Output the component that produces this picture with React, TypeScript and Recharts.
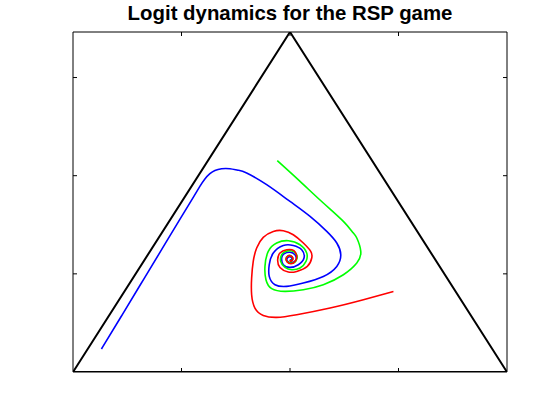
import React from "react";
import { ComposedChart, Scatter, XAxis, YAxis } from "recharts";

// simplex corners (equilateral triangle, height sqrt(3)/2)
const triangle = [
  { x: 0, y: 0 }, { x: 0.5, y: 0.866 }, { x: 1, y: 0 }, { x: 0, y: 0 },
];

const blueTrack = [
  { x: 0.0655, y: 0.0586 }, { x: 0.111, y: 0.1414 }, { x: 0.1562, y: 0.2241 },
  { x: 0.2017, y: 0.3072 }, { x: 0.2469, y: 0.3899 }, { x: 0.2764, y: 0.4437 },
  { x: 0.2923, y: 0.4727 }, { x: 0.3039, y: 0.4916 }, { x: 0.3154, y: 0.5051 },
  { x: 0.327, y: 0.5135 }, { x: 0.3424, y: 0.5178 }, { x: 0.3616, y: 0.5178 },
  { x: 0.38, y: 0.514 }, { x: 0.4001, y: 0.5069 },
  { x: 0.4462, y: 0.4771 }, { x: 0.5, y: 0.4345 }, { x: 0.5462, y: 0.3963 },
  { x: 0.5847, y: 0.3581 }, { x: 0.6078, y: 0.3286 }, { x: 0.617, y: 0.2988 },
  { x: 0.6078, y: 0.269 }, { x: 0.5768, y: 0.2435 }, { x: 0.5307, y: 0.2267 },
  { x: 0.4924, y: 0.218 }, { x: 0.4654, y: 0.2224 }, { x: 0.4522, y: 0.2435 },
  { x: 0.4522, y: 0.2733 }, { x: 0.4615, y: 0.3031 }, { x: 0.4845, y: 0.3224 },
  { x: 0.5076, y: 0.3224 }, { x: 0.527, y: 0.3115 }, { x: 0.5323, y: 0.2904 },
  { x: 0.5192, y: 0.2733 }, { x: 0.5, y: 0.2664 }, { x: 0.4845, y: 0.2733 },
  { x: 0.4808, y: 0.2904 }, { x: 0.4862, y: 0.3013 }, { x: 0.5, y: 0.3051 },
  { x: 0.5115, y: 0.2988 }, { x: 0.5138, y: 0.286 }, { x: 0.5046, y: 0.2784 },
  { x: 0.4954, y: 0.2809 }, { x: 0.4931, y: 0.2886 }, { x: 0.5, y: 0.2937 },
  { x: 0.5046, y: 0.2873 }, { x: 0.5, y: 0.286 },
];

const greenTrack = [
  { x: 0.4707, y: 0.5382 }, { x: 0.5231, y: 0.4855 }, { x: 0.5768, y: 0.4304 },
  { x: 0.623, y: 0.3836 }, { x: 0.6454, y: 0.3548 }, { x: 0.6539, y: 0.3413 },
  { x: 0.6631, y: 0.3072 }, { x: 0.6539, y: 0.2776 }, { x: 0.623, y: 0.2478 },
  { x: 0.5768, y: 0.2224 }, { x: 0.5307, y: 0.2096 }, { x: 0.4885, y: 0.2053 },
  { x: 0.4578, y: 0.2122 }, { x: 0.4446, y: 0.2351 }, { x: 0.4423, y: 0.269 },
  { x: 0.4499, y: 0.3072 }, { x: 0.4693, y: 0.3286 }, { x: 0.4961, y: 0.3344 },
  { x: 0.5231, y: 0.3242 }, { x: 0.5385, y: 0.3031 }, { x: 0.5369, y: 0.2817 },
  { x: 0.5231, y: 0.2649 }, { x: 0.5039, y: 0.2606 }, { x: 0.4885, y: 0.2664 },
  { x: 0.4785, y: 0.2817 }, { x: 0.4808, y: 0.2988 }, { x: 0.4885, y: 0.3064 },
  { x: 0.5023, y: 0.309 }, { x: 0.5138, y: 0.3013 }, { x: 0.5161, y: 0.2886 },
  { x: 0.5092, y: 0.2784 }, { x: 0.4977, y: 0.2784 }, { x: 0.4908, y: 0.286 },
  { x: 0.4954, y: 0.2962 }, { x: 0.5046, y: 0.2937 }, { x: 0.5046, y: 0.2835 },
  { x: 0.5, y: 0.286 },
];

const redTrack = [
  { x: 0.7383, y: 0.2053 }, { x: 0.6691, y: 0.1841 }, { x: 0.5923, y: 0.163 },
  { x: 0.5155, y: 0.1459 }, { x: 0.4693, y: 0.1391 }, { x: 0.4384, y: 0.1442 },
  { x: 0.4192, y: 0.163 }, { x: 0.4116, y: 0.1969 }, { x: 0.4116, y: 0.2394 },
  { x: 0.4153, y: 0.2817 }, { x: 0.4232, y: 0.3158 }, { x: 0.4384, y: 0.3428 },
  { x: 0.4615, y: 0.3581 }, { x: 0.4845, y: 0.3599 }, { x: 0.5076, y: 0.3497 },
  { x: 0.5307, y: 0.3286 }, { x: 0.5478, y: 0.3072 }, { x: 0.5501, y: 0.2904 },
  { x: 0.5399, y: 0.269 }, { x: 0.5155, y: 0.2562 }, { x: 0.4961, y: 0.2547 },
  { x: 0.4769, y: 0.2664 }, { x: 0.4716, y: 0.286 }, { x: 0.4769, y: 0.3031 },
  { x: 0.4924, y: 0.3115 }, { x: 0.5092, y: 0.309 }, { x: 0.5155, y: 0.2944 },
  { x: 0.5115, y: 0.2817 }, { x: 0.5023, y: 0.2758 }, { x: 0.4931, y: 0.2809 },
  { x: 0.4919, y: 0.2911 }, { x: 0.5, y: 0.2962 }, { x: 0.5069, y: 0.2886 },
  { x: 0.5023, y: 0.2822 }, { x: 0.5, y: 0.286 },
];

const xTicks = [0.25, 0.5, 0.75];
const yTicks = [0.25, 0.5, 0.75];

const TICK = 4;
const noDot = () => <g />;

// MATLAB style ticks point inward
const tickIn = (side: "bottom" | "top" | "left" | "right") => (p: any) => {
  const { x, y } = p;
  if (side === "bottom") return <line x1={x} y1={y} x2={x} y2={y - TICK} stroke="#000" />;
  if (side === "top") return <line x1={x} y1={y} x2={x} y2={y + TICK} stroke="#000" />;
  if (side === "left") return <line x1={x} y1={y} x2={x + TICK} y2={y} stroke="#000" />;
  return <line x1={x} y1={y} x2={x - TICK} y2={y} stroke="#000" />;
};

export default function App() {
  return (
    <div style={{ position: "absolute", left: 0, top: 0, width: 560, height: 420, background: "#fff" }}>
      <div style={{
        position: "absolute", left: 73, top: 3, width: 434, textAlign: "center",
        fontFamily: "'Liberation Sans', Arial, sans-serif", fontWeight: "bold", fontSize: 20.4, lineHeight: "20px",
      }}>
        Logit dynamics for the RSP game
      </div>
      <ComposedChart width={560} height={420} margin={{ top: 31, right: 52, bottom: 47, left: 72 }}>
        <XAxis xAxisId="b" type="number" dataKey="x" domain={[0, 1]} ticks={xTicks}
          orientation="bottom" height={1} tickSize={0} tickMargin={0} tickLine={false}
          tick={tickIn("bottom")} axisLine={{ stroke: "#000" }} allowDataOverflow />
        <XAxis xAxisId="t" type="number" dataKey="x" domain={[0, 1]} ticks={xTicks}
          orientation="top" height={1} tickSize={0} tickMargin={0} tickLine={false}
          tick={tickIn("top")} axisLine={{ stroke: "#000" }} allowDataOverflow />
        <YAxis yAxisId="l" type="number" dataKey="y" domain={[0, 0.866]} ticks={yTicks}
          orientation="left" width={1} tickSize={0} tickMargin={0} tickLine={false}
          tick={tickIn("left")} axisLine={{ stroke: "#000" }} allowDataOverflow />
        <YAxis yAxisId="r" type="number" dataKey="y" domain={[0, 0.866]} ticks={yTicks}
          orientation="right" width={1} tickSize={0} tickMargin={0} tickLine={false}
          tick={tickIn("right")} axisLine={{ stroke: "#000" }} allowDataOverflow />
        <Scatter xAxisId="b" yAxisId="l" data={triangle} line={{ stroke: "#000", strokeWidth: 2 }}
          shape={noDot} isAnimationActive={false} />
        <Scatter xAxisId="b" yAxisId="l" data={blueTrack} line={{ stroke: "#0000ff", strokeWidth: 1.6 }}
          lineJointType="natural" shape={noDot} isAnimationActive={false} />
        <Scatter xAxisId="b" yAxisId="l" data={greenTrack} line={{ stroke: "#00ff00", strokeWidth: 1.6 }}
          lineJointType="natural" shape={noDot} isAnimationActive={false} />
        <Scatter xAxisId="b" yAxisId="l" data={redTrack} line={{ stroke: "#ff0000", strokeWidth: 1.6 }}
          lineJointType="natural" shape={noDot} isAnimationActive={false} />
      </ComposedChart>
    </div>
  );
}
